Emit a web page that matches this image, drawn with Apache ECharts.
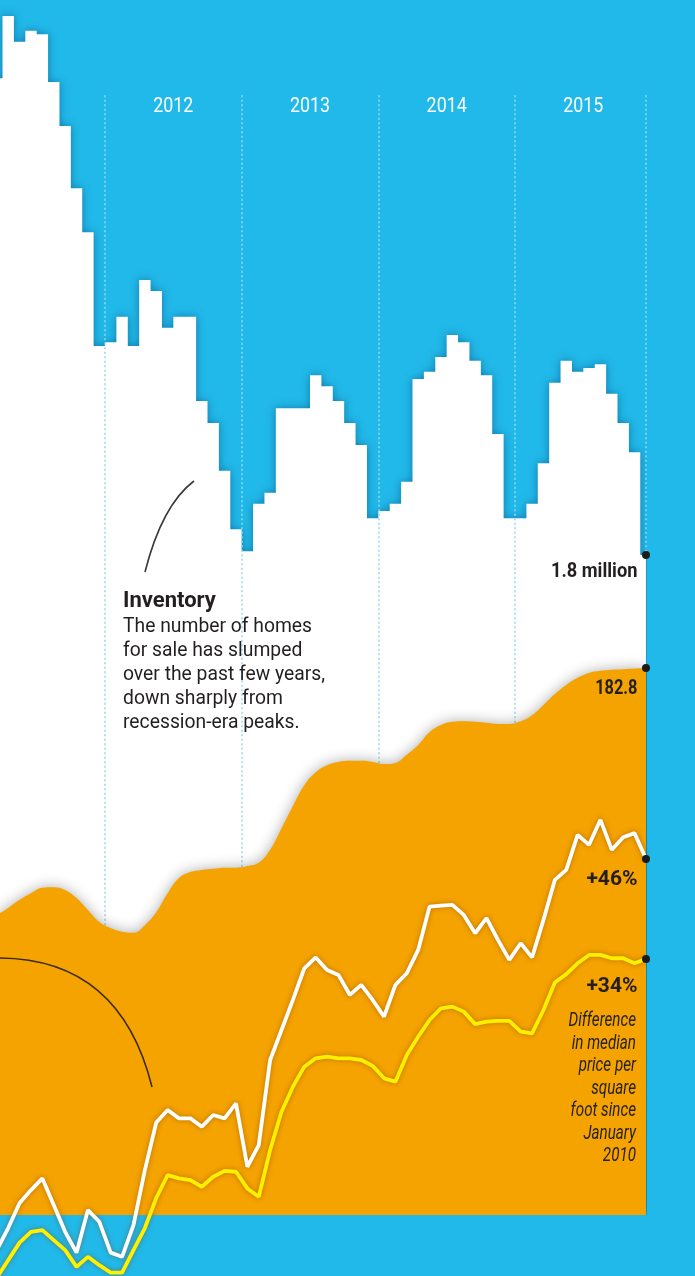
<!DOCTYPE html>
<html><head><meta charset="utf-8">
<script src="https://cdn.jsdelivr.net/npm/echarts@6/dist/echarts.min.js"></script>
<style>html,body{margin:0;padding:0;background:#21b9e9;}#c{width:695px;height:1276px;}</style>
</head><body><div id="c"></div>
<script>
// Month index: 0 = Jan 2011. Series start at Mar 2011 and end Dec 2015.
const FIRST_MONTH = 2;
const yearLabels = ['2012', '2013', '2014', '2015'];

// Homes for sale (millions), one value per month (step area)
const inventory = [
  3.10, 3.27, 3.20, 3.23, 3.22, 3.09, 2.97, 2.80, 2.68, 2.37,
  2.38, 2.45, 2.37, 2.55, 2.52, 2.42, 2.45, 2.45, 2.22, 2.16, 2.03, 1.87,
  1.81, 1.94, 1.97, 2.20, 2.20, 2.20, 2.29, 2.26, 2.22, 2.16, 2.10, 1.90,
  1.92, 1.94, 2.00, 2.28, 2.30, 2.34, 2.40, 2.38, 2.33, 2.29, 2.13, 1.90,
  1.90, 1.94, 2.05, 2.27, 2.33, 2.30, 2.31, 2.32, 2.24, 2.16, 2.08, 1.80
];

// Home price index (orange area)
const priceIndex = [
  137.3, 138.6, 140.1, 141.3, 142.3, 142.4, 141.9, 140.4, 138.2, 136.0,
  134.9, 134.2, 134.0, 135.4, 137.8, 141.3, 144.1, 145.2, 145.6, 145.8, 146.0, 146.0,
  146.3, 146.9, 149.3, 153.3, 157.4, 161.2, 163.6, 164.9, 165.5, 165.7, 165.7, 165.5,
  165.1, 165.3, 166.8, 168.6, 171.0, 172.3, 172.9, 173.0, 172.9, 172.7, 172.5, 172.5,
  173.0, 174.1, 176.0, 178.0, 179.7, 181.0, 181.9, 182.3, 182.5, 182.6, 182.7, 182.8
];

// Difference in median price per square foot since January 2010 (%)
const pctWhite = [
  -0.9, 1.75, 4.75, 6.3, 7.7, 4.5, 1.3, -1.2, 3.9, 2.5,
  -1.2, -1.7, 2.1, 8.7, 14.4, 15.9, 14.9, 14.9, 13.9, 15.3, 14.9, 16.7,
  9.1, 11.7, 21.9, 25.5, 29.1, 32.9, 34.2, 32.7, 32.1, 29.7, 30.9, 29.1,
  27.1, 30.9, 32.3, 35.1, 40.3, 40.4, 40.5, 39.3, 37.1, 38.9, 36.3, 33.9,
  35.9, 34.2, 38.7, 43.5, 44.7, 48.9, 47.7, 50.7, 47.1, 48.6, 49.1, 46.0
];
const pctYellow = [
  -4.2, -2.1, 0, 1.3, 1.5, 0.3, -0.9, -2.9, -1.7, -2.7,
  -3.6, -3.6, -0.9, 1.75, 5.35, 8.1, 7.7, 7.5, 6.7, 7.9, 8.6, 8.5,
  6.5, 5.5, 11.1, 15.7, 18.7, 21.1, 22.1, 22.3, 22.1, 22.1, 21.9, 21.2,
  19.7, 19.3, 22.5, 24.7, 26.7, 28.1, 28.3, 27.7, 26.2, 26.5, 26.6, 26.6,
  25.3, 25.1, 27.9, 31.2, 32.2, 33.5, 34.5, 34.5, 34.1, 34.1, 33.5, 34.0
];

const BLUE = '#21b9e9', ORANGE = '#f4a300', INK = '#231f20';
const FONT = "Roboto, 'Liberation Sans', sans-serif";
const X_MIN = 2.78, X_MAX = 59.59;

const n = inventory.length;
const lastX = FIRST_MONTH + n - 0.5;
const invData = inventory.map((v, i) => [FIRST_MONTH + i, v]);
invData.push([lastX, inventory[n - 1]]);
const mid = arr => arr.map((v, i) => [FIRST_MONTH + i + 0.5, v]);
const INV_TOP = 3.054;
const yearStart = y => (+y - 2011) * 12;
const dividers = yearLabels.map(y => ({ coords: [[yearStart(y), INV_TOP], [yearStart(y), 0]] }));
dividers.push({ coords: [[lastX, INV_TOP], [lastX, inventory[n - 1]]] });

function endDot(name, xi, yi, value) {
  return {
    name, type: 'scatter', xAxisIndex: xi, yAxisIndex: yi, z: 8,
    symbolSize: 8, itemStyle: { color: '#1a1a1a', opacity: 1 },
    data: [[lastX, value]], silent: true
  };
}

const chart = echarts.init(document.getElementById('c'), null, { renderer: 'canvas', width: 695, height: 1276 });
chart.setOption({
  backgroundColor: BLUE,
  animation: false,
  grid: [
    { left: 0, width: 647, top: 5, height: 1210 },
    { left: 0, width: 647, top: 0, height: 1276 }
  ],
  xAxis: [
    { gridIndex: 0, type: 'value', min: X_MIN, max: X_MAX, show: false, splitLine: { show: false } },
    { gridIndex: 1, type: 'value', min: X_MIN, max: X_MAX, show: false, splitLine: { show: false } }
  ],
  yAxis: [
    { gridIndex: 0, type: 'value', min: 0, max: 3.3, show: false, splitLine: { show: false } },
    { gridIndex: 0, type: 'value', min: 82, max: 305, show: false, splitLine: { show: false } },
    { gridIndex: 1, type: 'value', min: -4, max: 149, show: false, splitLine: { show: false } }
  ],
  series: [
    {
      name: 'Inventory', type: 'line', xAxisIndex: 0, yAxisIndex: 0, z: 2,
      step: 'end', data: invData, showSymbol: false, silent: true,
      lineStyle: { width: 0 },
      areaStyle: { color: '#ffffff', opacity: 1, origin: 'start', shadowBlur: 9, shadowColor: 'rgba(0,60,110,0.5)' }
    },
    {
      name: 'Years', type: 'lines', coordinateSystem: 'cartesian2d', xAxisIndex: 0, yAxisIndex: 0, z: 3,
      data: dividers, silent: true,
      lineStyle: { color: '#93d8f1', width: 1.5, type: [2, 2.5], opacity: 1 }
    },
    {
      name: 'Price index', type: 'line', xAxisIndex: 0, yAxisIndex: 1, z: 4,
      data: mid(priceIndex), smooth: 0.4, showSymbol: false, silent: true,
      lineStyle: { width: 0 },
      areaStyle: { color: ORANGE, opacity: 1, origin: 'start', shadowBlur: 14, shadowColor: 'rgba(0,0,0,0.32)' }
    },
    {
      name: 'White', type: 'line', xAxisIndex: 1, yAxisIndex: 2, z: 5, clip: false,
      data: mid(pctWhite), showSymbol: false, silent: true,
      lineStyle: { color: '#ffffff', width: 3.8, shadowBlur: 5, shadowColor: 'rgba(130,60,0,0.5)' }
    },
    {
      name: 'Yellow', type: 'line', xAxisIndex: 1, yAxisIndex: 2, z: 5, clip: false,
      data: mid(pctYellow), showSymbol: false, silent: true,
      lineStyle: { color: '#fff000', width: 3.8, shadowBlur: 5, shadowColor: 'rgba(130,60,0,0.5)' }
    },
    endDot('invEnd', 0, 0, inventory[n - 1]),
    endDot('idxEnd', 0, 1, priceIndex[n - 1]),
    endDot('whiteEnd', 1, 2, pctWhite[n - 1]),
    endDot('yellowEnd', 1, 2, pctYellow[n - 1])
  ]
});

// Text placed from the axes' own scales
const px = (xi, yi, pt) => chart.convertToPixel({ xAxisIndex: xi, yAxisIndex: yi }, pt);
const yearY = px(0, 0, [0, INV_TOP])[1] + 12;
const graphics = [];
yearLabels.forEach(y => {
  const x = px(0, 0, [yearStart(y) + 6, 0])[0];
  graphics.push({ type: 'text', z: 20, silent: true, x: x, y: yearY, scaleX: 0.87,
    style: { text: y, fill: '#ffffff', fontFamily: FONT, fontWeight: 'normal', fontSize: 20.5, align: 'center', verticalAlign: 'middle' } });
});
function endLabel(xi, yi, value, text, dy, sx) {
  const p = px(xi, yi, [lastX, value]);
  graphics.push({ type: 'text', z: 20, silent: true, x: p[0] - 8.5, y: p[1] + dy, scaleX: sx,
    style: { text: text, fill: INK, fontFamily: FONT, fontWeight: 'bold', fontSize: 21, align: 'right', verticalAlign: 'middle' } });
}
endLabel(0, 0, inventory[n - 1], inventory[n - 1].toFixed(1) + ' million', 17, 0.87);
endLabel(0, 1, priceIndex[n - 1], priceIndex[n - 1].toFixed(1), 21, 0.78);
endLabel(1, 2, pctWhite[n - 1], '+' + Math.round(pctWhite[n - 1]) + '%', 21, 1.0);
endLabel(1, 2, pctYellow[n - 1], '+' + Math.round(pctYellow[n - 1]) + '%', 28, 1.0);
const yp = px(1, 2, [lastX, pctYellow[n - 1]]);
graphics.push({ type: 'text', z: 20, silent: true, x: yp[0] - 10, y: yp[1] + 51, scaleX: 0.76,
  style: { text: 'Difference\nin median\nprice per\nsquare\nfoot since\nJanuary\n2010',
    fill: INK, fontFamily: FONT, fontStyle: 'italic', fontSize: 20, lineHeight: 22.5, verticalAlign: 'top', align: 'right' } });
graphics.push(
  { type: 'bezierCurve', z: 20, silent: true,
    shape: { x1: 145, y1: 572, x2: 194, y2: 481, cpx1: 162, cpy1: 505 },
    style: { stroke: '#3a3a3a', lineWidth: 1.6, fill: null } },
  { type: 'bezierCurve', z: 20, silent: true,
    shape: { x1: -2, y1: 958, x2: 152, y2: 1087, cpx1: 120, cpy1: 958 },
    style: { stroke: '#3a2a10', lineWidth: 1.6, fill: null } },
  { type: 'text', z: 20, silent: true, x: 123, y: 601,
    style: { text: 'Inventory', fill: INK, fontFamily: FONT, fontWeight: 'bold', fontSize: 22, verticalAlign: 'middle', align: 'left' } },
  { type: 'text', z: 20, silent: true, x: 123, y: 615, scaleX: 0.965,
    style: { text: 'The number of homes\nfor sale has slumped\nover the past few years,\ndown sharply from\nrecession-era peaks.',
      fill: INK, fontFamily: FONT, fontSize: 20, lineHeight: 24, verticalAlign: 'top', align: 'left' } }
);
chart.setOption({ graphic: graphics });
</script>
</body></html>
